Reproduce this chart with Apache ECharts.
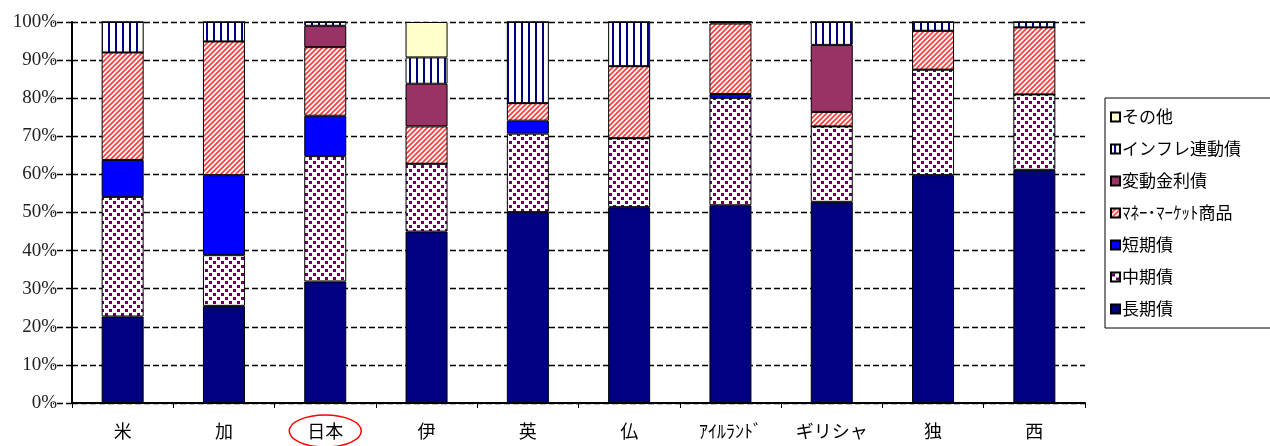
<!DOCTYPE html>
<html>
<head>
<meta charset="utf-8">
<script src="https://cdn.jsdelivr.net/npm/echarts@6/dist/echarts.min.js"></script>
<style>
  html, body { margin: 0; padding: 0; background: #fff; }
  #chart { width: 1270px; height: 446px; }
</style>
</head>
<body>
<div id="chart"></div>
<script>
// Countries (x-axis categories)
const countries = ['米', '加', '日本', '伊', '英', '仏', 'ｱｲﾙﾗﾝﾄﾞ', 'ギリシャ', '独', '西'];

// Composition of outstanding government debt by instrument (%)
const longTerm   = [22.7, 25.5, 31.9, 45.0, 50.1, 51.4, 51.9, 52.8, 59.8, 61.2]; // 長期債
const midTerm    = [31.4, 13.3, 32.9, 17.8, 20.6, 18.1, 28.2, 19.8, 27.7, 19.8]; // 中期債
const shortTerm  = [9.7, 21.0, 10.6, 0, 3.4, 0, 1.0, 0, 0, 0];                     // 短期債
const moneyMkt   = [28.2, 35.1, 18.0, 9.8, 4.6, 18.9, 18.5, 3.8, 10.2, 17.6];      // ﾏﾈｰ･ﾏｰｹｯﾄ商品
const floating   = [0, 0, 5.6, 11.2, 0, 0, 0.4, 17.6, 0, 0];                       // 変動金利債
const inflation  = [8.0, 5.1, 1.0, 6.9, 21.3, 11.6, 0, 6.0, 2.3, 1.4];             // インフレ連動債
const other      = [0, 0, 0, 9.3, 0, 0, 0, 0, 0, 0];                               // その他

const yTicks = [0, 10, 20, 30, 40, 50, 60, 70, 80, 90, 100];
const highlighted = '日本';

// ---- fill patterns ----
function makeTile(w, h, draw) {
  const c = document.createElement('canvas');
  c.width = w; c.height = h;
  const ctx = c.getContext('2d');
  ctx.fillStyle = '#fff';
  ctx.fillRect(0, 0, w, h);
  draw(ctx);
  return { image: c, repeat: 'repeat' };
}
const dotPattern = makeTile(8, 8, ctx => {
  ctx.fillStyle = '#660066';
  ctx.fillRect(1, 1, 3, 3);
  ctx.fillRect(5, 5, 3, 3);
});
const stripePattern = makeTile(5, 5, ctx => {
  ctx.strokeStyle = '#ff4040';
  ctx.lineWidth = 1.8;
  ctx.beginPath();
  ctx.moveTo(-1, 6); ctx.lineTo(6, -1);
  ctx.moveTo(-1, 1); ctx.lineTo(1, -1);
  ctx.moveTo(4, 6); ctx.lineTo(6, 4);
  ctx.stroke();
});
const vlinePattern = makeTile(7, 2, ctx => {
  ctx.fillStyle = '#000080';
  ctx.fillRect(3, 0, 2, 2);
});

const seriesDefs = [
  { name: '長期債', data: longTerm, color: '#000080' },
  { name: '中期債', data: midTerm, color: dotPattern },
  { name: '短期債', data: shortTerm, color: '#0000ff' },
  { name: 'ﾏﾈｰ･ﾏｰｹｯﾄ商品', data: moneyMkt, color: stripePattern },
  { name: '変動金利債', data: floating, color: '#993366' },
  { name: 'インフレ連動債', data: inflation, color: vlinePattern },
  { name: 'その他', data: other, color: '#ffffcc' }
];

const serifFont = '"Liberation Serif", "Noto Sans CJK JP", serif';
const jpFont = '"Noto Sans CJK JP", sans-serif';

const chart = echarts.init(document.getElementById('chart'), null, { renderer: 'canvas' });

chart.setOption({
  animation: false,
  backgroundColor: '#fff',
  grid: { left: 72, right: 185, top: 22, bottom: 43, containLabel: false },
  legend: {
    orient: 'vertical',
    left: 1105,
    top: 98,
    width: 200,
    data: seriesDefs.map(s => s.name).reverse(),
    itemWidth: 9,
    itemHeight: 9,
    itemGap: 12,
    icon: 'rect',
    borderColor: '#000',
    borderWidth: 1,
    padding: [9, 40, 9, 5],
    textStyle: { fontFamily: jpFont, fontSize: 17, lineHeight: 20, color: '#000', padding: [0, 0, 0, -3] }
  },
  xAxis: {
    type: 'category',
    data: countries,
    boundaryGap: true,
    axisLine: { lineStyle: { color: '#000', width: 2 } },
    axisTick: { show: true, alignWithLabel: false, length: 5, lineStyle: { color: '#000', width: 1 } },
    axisLabel: { fontFamily: jpFont, fontSize: 18, color: '#000', margin: 19 }
  },
  yAxis: {
    type: 'value',
    min: yTicks[0],
    max: yTicks[yTicks.length - 1],
    interval: 10,
    axisLine: { show: true, lineStyle: { color: '#000', width: 2 } },
    axisTick: { show: true, length: 19, lineStyle: { color: '#000', width: 1.4, type: [6, 3] } },
    axisLabel: { formatter: '{value}%', fontFamily: serifFont, fontSize: 19, color: '#222', margin: 15 },
    splitLine: { show: true, lineStyle: { color: '#000', width: 1.4, type: [6, 3] } }
  },
  series: seriesDefs.map(s => ({
    name: s.name,
    type: 'bar',
    stack: 'total',
    barWidth: 42,
    data: s.data,
    itemStyle: { color: s.color, borderColor: '#000', borderWidth: 1 }
  }))
});

// Red ellipse marking the highlighted country label
const cx = chart.convertToPixel({ xAxisIndex: 0 }, highlighted);
chart.setOption({
  graphic: [{
    type: 'ellipse',
    shape: { cx: cx, cy: 431, rx: 36, ry: 16 },
    style: { fill: 'none', stroke: '#ff0000', lineWidth: 1.5 },
    z: 100
  }]
});
</script>
</body>
</html>
